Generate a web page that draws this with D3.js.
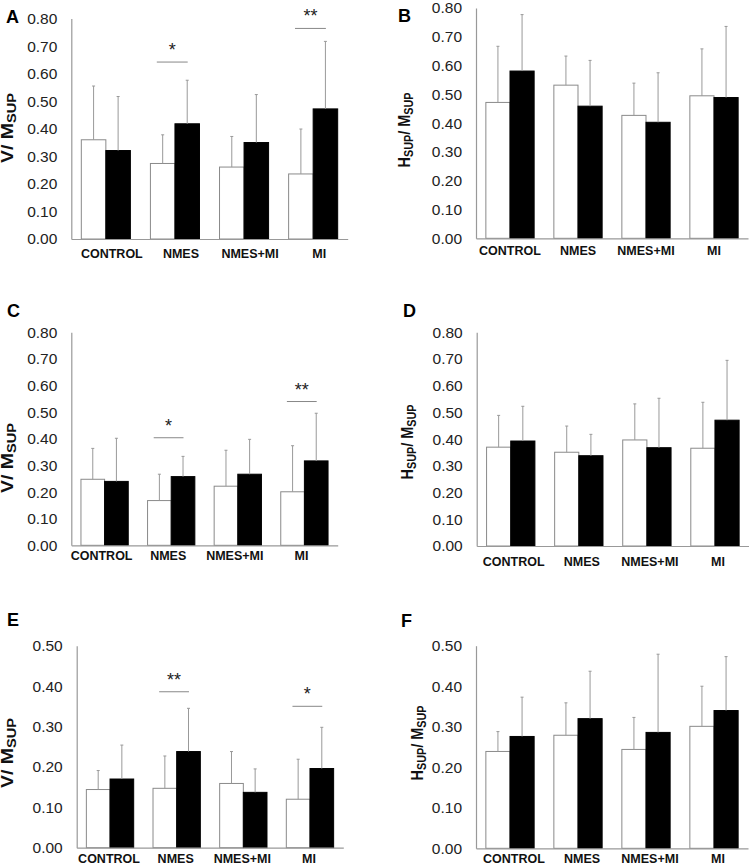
<!DOCTYPE html>
<html>
<head>
<meta charset="utf-8">
<script src="https://cdn.jsdelivr.net/npm/d3@7"></script>
<style>
  html, body { margin: 0; padding: 0; background: #fff; }
  svg { display: block; }
</style>
</head>
<body>
<svg id="chart" width="749" height="866"></svg>
<script>
// ---------------- DATA ----------------
const categories = ["CONTROL", "NMES", "NMES+MI", "MI"];
const groups = ["pre", "post"];
const ticks08 = [0, 0.1, 0.2, 0.3, 0.4, 0.5, 0.6, 0.7, 0.8];
const ticks05 = [0, 0.1, 0.2, 0.3, 0.4, 0.5];

// Panel A: V / Msup
const preA   = [0.360, 0.274, 0.261, 0.236];
const preSdA = [0.195, 0.104, 0.111, 0.163];
const postA  = [0.321, 0.418, 0.350, 0.472];
const postSdA= [0.196, 0.158, 0.174, 0.245];
const sigA = [{cat: "NMES", mark: "*", level: 0.642}, {cat: "MI", mark: "**", level: 0.764}];

// Panel B: Hsup / Msup
const preB   = [0.472, 0.532, 0.427, 0.495];
const preSdB = [0.195, 0.101, 0.112, 0.163];
const postB  = [0.581, 0.459, 0.403, 0.489];
const postSdB= [0.196, 0.159, 0.172, 0.247];
const sigB = [];

// Panel C: V / Msup
const preC   = [0.248, 0.168, 0.222, 0.201];
const preSdC = [0.116, 0.099, 0.135, 0.173];
const postC  = [0.240, 0.258, 0.267, 0.317];
const postSdC= [0.162, 0.076, 0.131, 0.179];
const sigC = [{cat: "NMES", mark: "*", level: 0.404}, {cat: "MI", mark: "**", level: 0.540}];

// Panel D: Hsup / Msup
const preD   = [0.370, 0.351, 0.397, 0.366];
const preSdD = [0.119, 0.098, 0.135, 0.172];
const postD  = [0.393, 0.338, 0.368, 0.471];
const postSdD= [0.130, 0.080, 0.185, 0.224];
const sigD = [];

// Panel E: V / Msup
const preE   = [0.144, 0.147, 0.159, 0.120];
const preSdE = [0.047, 0.080, 0.079, 0.099];
const postE  = [0.170, 0.238, 0.137, 0.196];
const postSdE= [0.084, 0.107, 0.058, 0.102];
const sigE = [{cat: "NMES", mark: "**", level: 0.386}, {cat: "MI", mark: "*", level: 0.350}];

// Panel F: Hsup / Msup
const preF   = [0.239, 0.279, 0.244, 0.301];
const preSdF = [0.049, 0.080, 0.079, 0.099];
const postF  = [0.276, 0.320, 0.286, 0.340];
const postSdF= [0.097, 0.117, 0.193, 0.133];
const sigF = [];

// ---------------- LAYOUT ----------------
const panels = [
  {letter: "A", pre: preA, preSd: preSdA, post: postA, postSd: postSdA, sig: sigA, ticks: ticks08, title: "V",
   left: 71.3, right: 347.7, top: 18.5, bottom: 239, labelY: 258, labelDx: 6, titleX: 13, titleY: 128, letterX: 6, letterY: 23},
  {letter: "B", pre: preB, preSd: preSdB, post: postB, postSd: postSdB, sig: sigB, ticks: ticks08, title: "H",
   left: 476, right: 748, top: 8, bottom: 238.3, labelY: 255, labelDx: 0, titleX: 410, titleY: 130, letterX: 398, letterY: 22},
  {letter: "C", pre: preC, preSd: preSdC, post: postC, postSd: postSdC, sig: sigC, ticks: ticks08, title: "V",
   left: 71.3, right: 337.7, top: 332.3, bottom: 545.3, labelY: 560, labelDx: -3, titleX: 13, titleY: 458, letterX: 7, letterY: 317},
  {letter: "D", pre: preD, preSd: preSdD, post: postD, postSd: postSdD, sig: sigD, ticks: ticks08, title: "H",
   left: 476.7, right: 749, top: 332.3, bottom: 546, labelY: 566, labelDx: 3, titleX: 413, titleY: 442, letterX: 403, letterY: 317},
  {letter: "E", pre: preE, preSd: preSdE, post: postE, postSd: postSdE, sig: sigE, ticks: ticks05, title: "V",
   left: 76.7, right: 343.3, top: 645.7, bottom: 847.7, labelY: 863, labelDx: -1, titleX: 13, titleY: 753, letterX: 7, letterY: 626},
  {letter: "F", pre: preF, preSd: preSdF, post: postF, postSd: postSdF, sig: sigF, ticks: ticks05, title: "H",
   left: 476, right: 748, top: 645.7, bottom: 848.3, labelY: 863, labelDx: 4, titleX: 423, titleY: 743, letterX: 401, letterY: 627}
];

const FONT = "'Liberation Sans', Arial, Helvetica, sans-serif";
const svg = d3.select("#chart");

panels.forEach(p => {
  const g = svg.append("g");
  const yMax = d3.max(p.ticks);
  const y = d3.scaleLinear().domain([0, yMax]).range([p.bottom, p.top]);
  const x0 = d3.scaleBand().domain(categories).range([p.left, p.right])
    .paddingInner(0.29).paddingOuter(0.145);
  const x1 = d3.scaleBand().domain(groups).range([0, x0.bandwidth()]).padding(0);

  const rows = categories.map((c, i) => ({
    cat: c,
    vals: [
      {grp: "pre", v: p.pre[i], sd: p.preSd[i]},
      {grp: "post", v: p.post[i], sd: p.postSd[i]}
    ]
  }));

  // Y axis
  const yAxis = d3.axisLeft(y).tickValues(p.ticks).tickFormat(d3.format(".2f"))
    .tickSize(0).tickPadding(14);
  const ya = g.append("g").attr("transform", `translate(${p.left},0)`).call(yAxis);
  ya.select(".domain").attr("stroke", "#999").attr("stroke-width", 1.2);
  ya.selectAll("text").attr("font-family", FONT).attr("font-size", 15.5).attr("fill", "#222");

  // bars
  const cg = g.selectAll("g.cat").data(rows).join("g")
    .attr("class", "cat")
    .attr("transform", d => `translate(${x0(d.cat)},0)`);

  cg.selectAll("rect").data(d => d.vals).join("rect")
    .attr("x", d => x1(d.grp))
    .attr("y", d => y(d.v))
    .attr("width", x1.bandwidth())
    .attr("height", d => y(0) - y(d.v))
    .attr("fill", d => d.grp === "pre" ? "#fff" : "#000")
    .attr("stroke", d => d.grp === "pre" ? "#8a8a8a" : "#000")
    .attr("stroke-width", 1);

  // error bars (upper only)
  cg.selectAll("line.err").data(d => d.vals).join("line")
    .attr("class", "err")
    .attr("x1", d => x1(d.grp) + x1.bandwidth() / 2)
    .attr("x2", d => x1(d.grp) + x1.bandwidth() / 2)
    .attr("y1", d => y(d.v))
    .attr("y2", d => y(d.v + d.sd))
    .attr("stroke", "#999").attr("stroke-width", 1);
  cg.selectAll("line.cap").data(d => d.vals).join("line")
    .attr("class", "cap")
    .attr("x1", d => x1(d.grp) + x1.bandwidth() / 2 - 1.5)
    .attr("x2", d => x1(d.grp) + x1.bandwidth() / 2 + 1.5)
    .attr("y1", d => y(d.v + d.sd))
    .attr("y2", d => y(d.v + d.sd))
    .attr("stroke", "#999").attr("stroke-width", 1);

  // X axis
  const xAxis = d3.axisBottom(x0).tickSize(0).tickSizeOuter(0);
  const xa = g.append("g").attr("transform", `translate(0,${p.bottom})`).call(xAxis);
  xa.select(".domain").attr("stroke", "#999").attr("stroke-width", 1.2);
  xa.selectAll("text")
    .attr("font-family", FONT).attr("font-size", 12.5).attr("font-weight", "bold").attr("fill", "#111")
    .attr("dy", null)
    .attr("y", p.labelY - p.bottom)
    .attr("x", p.labelDx);

  // significance brackets
  p.sig.forEach(s => {
    const bx = x0(s.cat), bw = x0.bandwidth();
    const xa1 = bx + bw * 0.13, xa2 = bx + bw * 0.76;
    g.append("line")
      .attr("x1", xa1).attr("x2", xa2)
      .attr("y1", y(s.level)).attr("y2", y(s.level))
      .attr("stroke", "#888").attr("stroke-width", 1);
    g.append("text")
      .attr("x", (xa1 + xa2) / 2).attr("y", y(s.level) - 6)
      .attr("text-anchor", "middle")
      .attr("font-family", FONT).attr("font-size", 18).attr("fill", "#222")
      .text(s.mark);
  });

  // panel letter
  g.append("text")
    .attr("x", p.letterX).attr("y", p.letterY)
    .attr("font-family", FONT).attr("font-size", 18).attr("font-weight", "bold").attr("fill", "#000")
    .text(p.letter);

  // y-axis title
  const t = g.append("text")
    .attr("transform", `translate(${p.titleX},${p.titleY}) rotate(-90)`)
    .attr("text-anchor", "middle")
    .attr("textLength", p.title === "V" ? 70 : 75)
    .attr("lengthAdjust", "spacingAndGlyphs")
    .attr("font-family", FONT).attr("font-weight", "bold").attr("font-size", 16).attr("fill", "#111");
  if (p.title === "V") {
    t.append("tspan").text("V/ M");
    t.append("tspan").attr("font-size", 12).attr("dy", 3).text("SUP");
  } else {
    t.append("tspan").text("H");
    t.append("tspan").attr("font-size", 12).attr("dy", 3).text("SUP");
    t.append("tspan").attr("dy", -3).text("/ M");
    t.append("tspan").attr("font-size", 12).attr("dy", 3).text("SUP");
  }
});
</script>
</body>
</html>
